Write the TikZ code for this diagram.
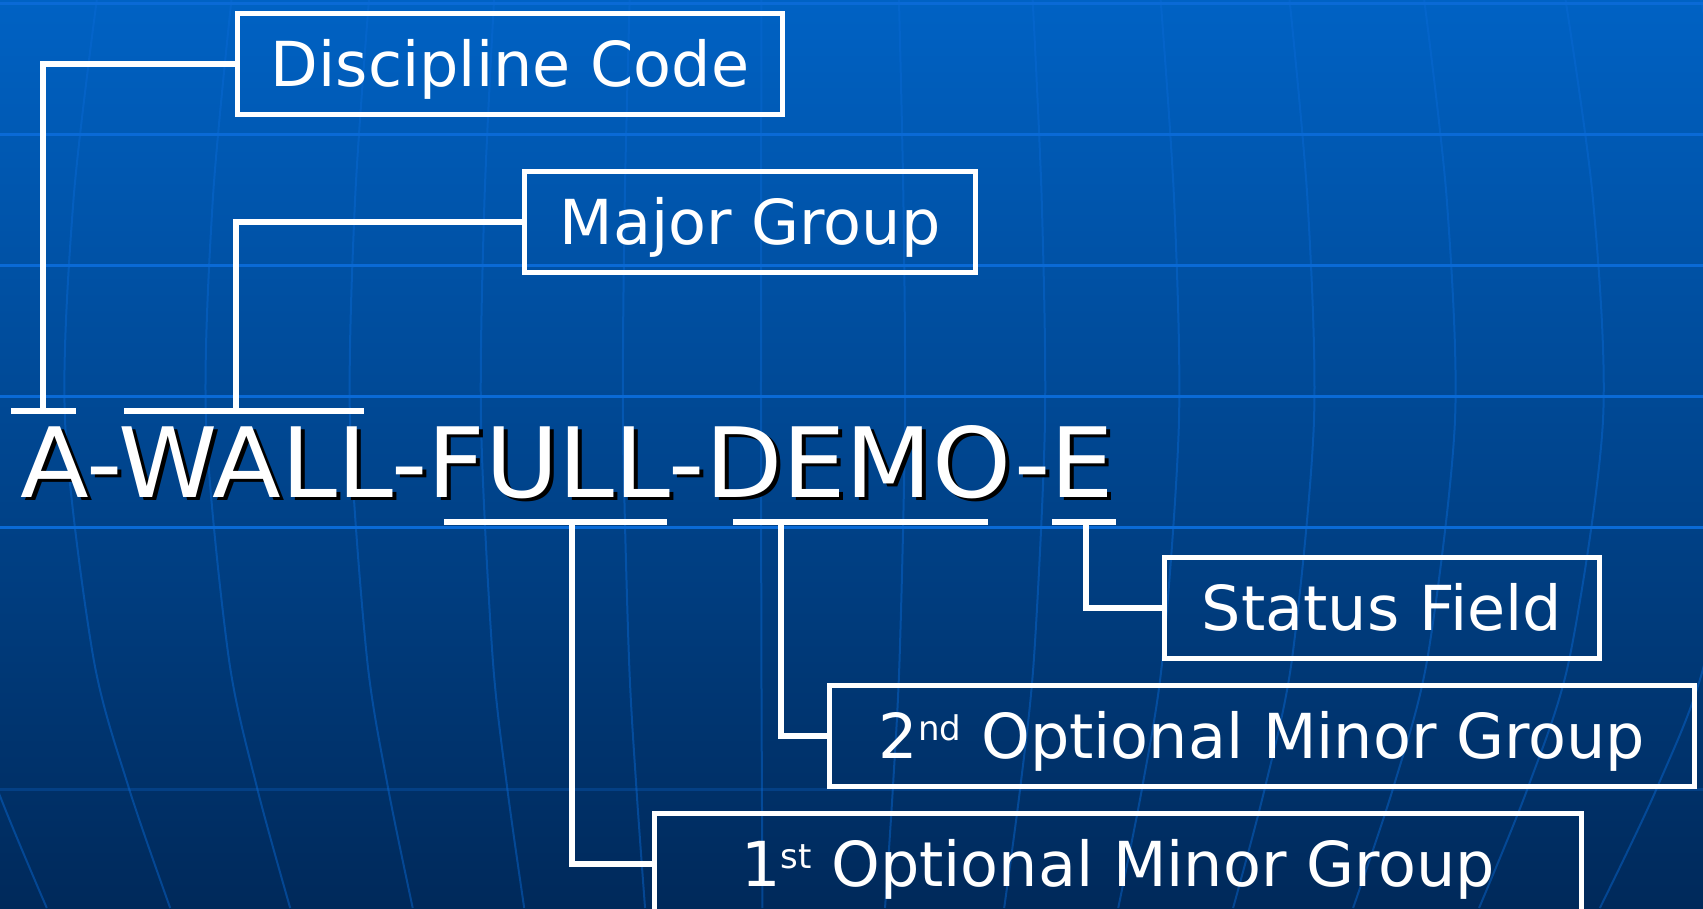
\documentclass[tikz,border=0pt]{standalone}
\usepackage{fontspec}
\setmainfont{DejaVu Sans}
\newfontfamily\codefont[FakeStretch=1.035]{DejaVu Sans}
\definecolor{bgtop}{HTML}{0062C4}
\definecolor{bgmid}{HTML}{00488F}
\definecolor{bgbot}{HTML}{00295A}
\definecolor{gridblue}{HTML}{0A6AD6}
\newcommand{\ordsup}[1]{\raisebox{18pt}{\fontsize{34}{36}\selectfont #1}}
\begin{document}
\begin{tikzpicture}[x=1pt,y=-1pt,
    tagbox/.style={draw=white,line width=5pt,text=white,font=\fontsize{62}{70}\selectfont,
      minimum height=101pt,inner sep=0pt,text height=45pt,text depth=0pt,anchor=north west},
    lead/.style={draw=white,line width=5.5pt},
    codetext/.style={font=\codefont\fontsize{97}{110}\selectfont,inner sep=0pt,anchor=base west}]
  \useasboundingbox (0,0) rectangle (1703,908);
  \shade[top color=bgtop,middle color=bgmid,bottom color=bgbot] (0,0) rectangle (1703,908);
  \foreach \Y in {3,134,265,396,527}
    \draw[gridblue,line width=3pt] (0,\Y) -- (1703,\Y);
  \draw[gridblue!35!bgbot,line width=3pt] (0,789) -- (1703,789);
  \foreach \X in {-80,65,206,350,481,623,761,905,1045,1179,1314,1455,1603,1745}
    \draw[gridblue,opacity=0.45,line width=2pt] plot[smooth] coordinates {({\X+0.045*(771-\X)},0)
      ({\X+0.012*(771-\X)},200) (\X,420) ({\X+0.04*(771-\X)},657) ({\X+0.09*(771-\X)},787) ({\X+0.149*(771-\X)},908)};
  \node[codetext,text=black] (CODES) at (24,500) {A-WALL-FULL-DEMO-E};
  \node[codetext,text=white] (CODE) at (20,497) {A-WALL-FULL-DEMO-E};
  \node[tagbox,minimum width=545pt] (DISC) at (235,11) {Discipline Code};
  \node[tagbox,minimum width=451pt] (MAJ) at (522,169) {Major Group};
  \node[tagbox,minimum width=435pt] (STAT) at (1162,555) {Status Field};
  \node[tagbox,minimum width=865pt] (MIN2) at (827,683) {2\ordsup{nd} Optional Minor Group};
  \node[tagbox,minimum width=927pt] (MIN1) at (652,811) {1\ordsup{st} Optional Minor Group};
  \coordinate (U1) at (43,411);
  \coordinate (U2) at (236,411);
  \coordinate (U3) at (572,522);
  \coordinate (U4) at (781,522);
  \coordinate (U5) at (1086,522);
  \draw[lead] (11,411) -- (76,411);
  \draw[lead] (124,411) -- (364,411);
  \draw[lead] (444,522) -- (667,522);
  \draw[lead] (733,522) -- (988,522);
  \draw[lead] (1052,522) -- (1116,522);
  \draw[lead] (DISC.west) -| (U1);
  \draw[lead] (MAJ.west) -| (U2);
  \draw[lead] (MIN1.west) -| (U3);
  \draw[lead] (MIN2.west) -| (U4);
  \draw[lead] (STAT.west) -| (U5);
\end{tikzpicture}
\end{document}
